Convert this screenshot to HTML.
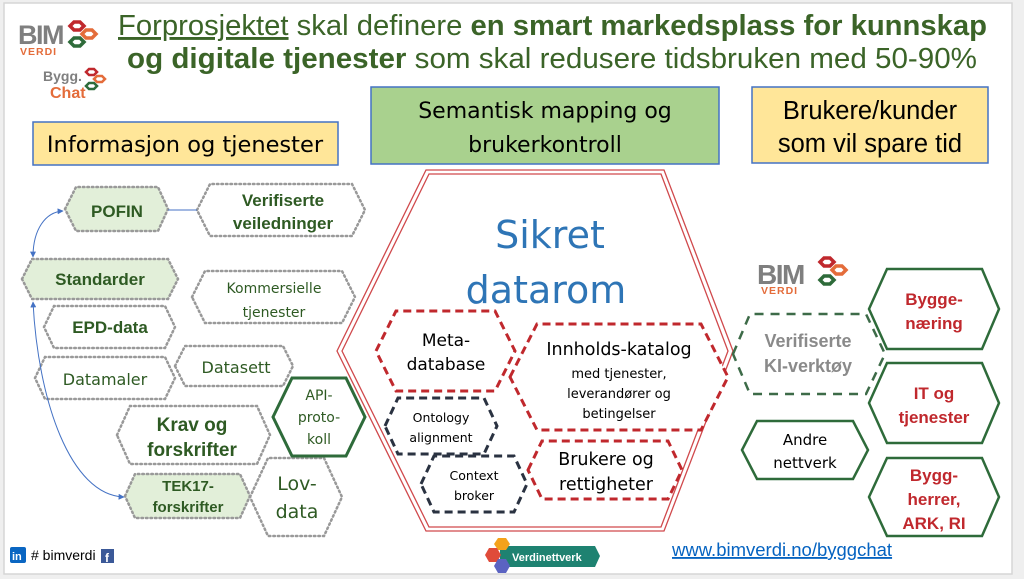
<!DOCTYPE html>
<html><head><meta charset="utf-8"><style>
html,body{margin:0;padding:0;background:#efefef;}
svg{display:block;font-family:"Liberation Sans",sans-serif;}
.c{font-family:"DejaVu Sans","Liberation Sans",sans-serif;}
</style></head><body>
<svg width="1024" height="579" viewBox="0 0 1024 579" xmlns="http://www.w3.org/2000/svg">
<defs>
<marker id="ar" viewBox="0 0 10 10" refX="9" refY="5" markerWidth="6" markerHeight="6" orient="auto-start-reverse"><path d="M0,0L10,5L0,10z" fill="#4472c4"/></marker>
</defs>
<rect x="4" y="3" width="1008" height="571" fill="#fff" stroke="#d6d6d6" stroke-width="1.5"/>

<!-- logos top-left -->
<text x="18" y="44" font-size="27" font-weight="bold" fill="#7f7f7f" letter-spacing="-1.5">BIM</text>
<text x="20" y="55" font-size="10.5" font-weight="bold" fill="#e46c3a" letter-spacing="1">VERDI</text>
<g fill="none" stroke-width="3.5">
<polygon points="70,26 74,22 80,22 84,26 80,30 74,30" stroke="#c0282d"/>
<polygon points="82,34 86,30 92,30 96,34 92,38 86,38" stroke="#e46c3a"/>
<polygon points="70,42 74,38 80,38 84,42 80,46 74,46" stroke="#2e6b3a"/>
</g>
<text x="43" y="81" font-size="14" font-weight="bold" fill="#7f7f7f">Bygg.</text>
<text x="50" y="98" font-size="16" font-weight="bold" fill="#e46c3a">Chat</text>
<g fill="none" stroke-width="2.5">
<polygon points="86,72 89,69 94,69 97,72 94,75 89,75" stroke="#c0282d"/>
<polygon points="94,79 97,76 102,76 105,79 102,82 97,82" stroke="#e46c3a"/>
<polygon points="86,86 89,83 94,83 97,86 94,89 89,89" stroke="#2e6b3a"/>
</g>

<!-- title -->
<g fill="#3b6428" font-size="29">
<text x="118" y="35" textLength="869" lengthAdjust="spacingAndGlyphs"><tspan text-decoration="underline">Forprosjektet</tspan> skal definere <tspan font-weight="bold">en smart markedsplass for kunnskap</tspan></text>
<text x="127" y="68" textLength="850" lengthAdjust="spacingAndGlyphs"><tspan font-weight="bold">og digitale tjenester</tspan> som skal redusere tidsbruken med 50-90%</text>
</g>

<!-- header boxes -->
<rect x="33" y="122" width="305" height="43" fill="#ffe699" stroke="#4472c4" stroke-width="1.5"/>
<text class="c" x="185" y="152" font-size="22.5" text-anchor="middle" fill="#000">Informasjon og tjenester</text>
<rect x="371" y="87" width="348" height="77" fill="#a9d18e" stroke="#4472c4" stroke-width="1.5"/>
<text class="c" x="545" y="118" font-size="22" text-anchor="middle">Semantisk mapping og</text>
<text class="c" x="545" y="152" font-size="22" text-anchor="middle">brukerkontroll</text>
<rect x="752" y="87" width="236" height="76" fill="#ffe699" stroke="#4472c4" stroke-width="1.5"/>
<text x="870" y="119" font-size="25.5" text-anchor="middle">Brukere/kunder</text>
<text x="870" y="152" font-size="25.5" text-anchor="middle">som vil spare tid</text>

<!-- left hexes -->
<g stroke="#999" stroke-width="2.5" stroke-dasharray="1.5 3" stroke-linecap="round">
<polygon points="65,209 76,187 158,187 168,209 158,231 76,231" fill="#e2efd9"/>
<polygon points="197,210 210,184 352,184 365,210 352,236 210,236" fill="#fff"/>
<polygon points="22,279 32,259 168,259 178,279 168,299 32,299" fill="#e2efd9"/>
<polygon points="192,297 205,271 342,271 355,297 342,323 205,323" fill="#fff"/>
<polygon points="44,327 54,306 165,306 175,327 165,348 54,348" fill="#fff"/>
<polygon points="35,378 45,357 165,357 175,378 165,399 45,399" fill="#fff"/>
<polygon points="175,366 185,346 283,346 293,366 283,386 185,386" fill="#fff"/>
<polygon points="117,435 130,406 257,406 270,435 257,464 130,464" fill="#fff"/>
<polygon points="125,496 135,474 240,474 250,496 240,518 135,518" fill="#e2efd9"/>
<polygon points="250,497 268,458 324,458 342,497 324,536 268,536" fill="#fff"/>
</g>
<polygon points="273,417 292,378 346,378 365,417 346,456 292,456" fill="#fff" stroke="#2e6b3a" stroke-width="3"/>

<g fill="#2e5a23" text-anchor="middle">
<text x="117" y="217" font-size="17" font-weight="bold">POFIN</text>
<text x="283" y="206" font-size="17" font-weight="bold">Verifiserte</text>
<text x="283" y="229" font-size="17" font-weight="bold">veiledninger</text>
<text x="100" y="285" font-size="17" font-weight="bold">Standarder</text>
<text class="c" x="274" y="293" font-size="14">Kommersielle</text>
<text class="c" x="274" y="317" font-size="14">tjenester</text>
<text x="110" y="333" font-size="17" font-weight="bold">EPD-data</text>
<text class="c" x="105" y="385" font-size="16">Datamaler</text>
<text class="c" x="236" y="373" font-size="16">Datasett</text>
<text x="192" y="431" font-size="19" font-weight="bold">Krav og</text>
<text x="192" y="456" font-size="19" font-weight="bold">forskrifter</text>
<text x="188" y="491" font-size="15" font-weight="bold">TEK17-</text>
<text x="188" y="512" font-size="15" font-weight="bold">forskrifter</text>
<text class="c" x="297" y="490" font-size="19">Lov-</text>
<text class="c" x="297" y="518" font-size="19">data</text>
<text class="c" x="319" y="400" font-size="14">API-</text>
<text class="c" x="319" y="422" font-size="14">proto-</text>
<text class="c" x="319" y="444" font-size="14">koll</text>
</g>

<!-- connectors -->
<g stroke="#4472c4" stroke-width="1" fill="none">
<line x1="168" y1="210" x2="197" y2="210"/>
<path d="M33,257 C33,230 45,212 63,211" marker-start="url(#ar)" marker-end="url(#ar)"/>
<path d="M33,302 C38,400 70,495 124,497" marker-start="url(#ar)" marker-end="url(#ar)"/>
</g>

<!-- central hexagon -->
<polygon points="337,351 426,170 664,170 733,351 664,531 426,531" fill="#fff" stroke="#d0494c" stroke-width="1.3"/>
<polygon points="342,351 429,174 661,174 728,351 661,527 429,527" fill="none" stroke="#d0494c" stroke-width="1.3"/>
<text class="c" x="550" y="248" font-size="38" fill="#2e75b6" text-anchor="middle">Sikret</text>
<text class="c" x="546" y="303" font-size="38" fill="#2e75b6" text-anchor="middle">datarom</text>

<g fill="#fff" stroke-width="3" stroke-dasharray="8 5">
<polygon points="376,351 396,311 495,311 515,351 495,391 396,391" stroke="#c0282d"/>
<polygon points="510,377 537,324 701,324 728,377 701,430 537,430" stroke="#c0282d"/>
<polygon points="385,426 398,398 484,398 497,426 484,454 398,454" stroke="#2a3241"/>
<polygon points="421,484 434,456 514,456 527,484 514,512 434,512" stroke="#2a3241"/>
<polygon points="528,470 542,441 668,441 682,470 668,499 542,499" stroke="#c0282d"/>
</g>
<g class="c" text-anchor="middle" fill="#000">
<text x="446" y="346" font-size="17">Meta-</text>
<text x="446" y="370" font-size="17">database</text>
<text x="619" y="355" font-size="17.5">Innholds-katalog</text>
<text x="619" y="378" font-size="13">med tjenester,</text>
<text x="619" y="398" font-size="13">leverandører og</text>
<text x="619" y="418" font-size="13">betingelser</text>
<text x="441" y="422" font-size="12.5">Ontology</text>
<text x="441" y="442" font-size="12.5">alignment</text>
<text x="474" y="480" font-size="12.5">Context</text>
<text x="474" y="500" font-size="12.5">broker</text>
<text x="606" y="465" font-size="17.5">Brukere og</text>
<text x="606" y="490" font-size="17.5">rettigheter</text>
</g>

<!-- Verdinettverk -->
<polygon points="500,546 595,546 600,556 595,567 500,567" fill="#1e8271"/>
<polygon points="494,544 498,538 506,538 510,544 506,550 498,550" fill="#f4a21b"/>
<polygon points="485,555 489,548 497,548 501,555 497,562 489,562" fill="#e04b3a"/>
<polygon points="494,566 498,559 506,559 510,566 506,573 498,573" fill="#5b63c2"/>
<text x="512" y="561" font-size="11" font-weight="bold" fill="#fff">Verdinettverk</text>

<!-- right side -->
<text x="757" y="284" font-size="28" font-weight="bold" fill="#7f7f7f" letter-spacing="-1.5">BIM</text>
<text x="761" y="294" font-size="10.5" font-weight="bold" fill="#e46c3a" letter-spacing="1">VERDI</text>
<g fill="none" stroke-width="3.5">
<polygon points="820,262 824,258 830,258 834,262 830,266 824,266" stroke="#c0282d"/>
<polygon points="832,270 836,266 842,266 846,270 842,274 836,274" stroke="#e46c3a"/>
<polygon points="820,280 824,276 830,276 834,280 830,284 824,284" stroke="#2e6b3a"/>
</g>

<polygon points="733,354 750,314 866,314 885,354 866,394 750,394" fill="#fff" stroke="#3d6b48" stroke-width="2.5" stroke-dasharray="9 7"/>
<text x="808" y="347" font-size="18" font-weight="bold" fill="#8a8a8a" text-anchor="middle">Verifiserte</text>
<text x="808" y="372" font-size="18" font-weight="bold" fill="#8a8a8a" text-anchor="middle">KI-verktøy</text>

<g fill="#fff" stroke="#2e6b3a" stroke-width="2.5">
<polygon points="869,309 887,269 982,269 999,309 982,349 887,349"/>
<polygon points="869,403 887,363 982,363 999,403 982,443 887,443"/>
<polygon points="869,497 887,458 982,458 999,497 982,536 887,536"/>
<polygon points="742,450 757,421 853,421 868,450 853,479 757,479"/>
</g>
<g fill="#c0282d" font-size="17" font-weight="bold" text-anchor="middle">
<text x="934" y="305">Bygge-</text>
<text x="934" y="329">næring</text>
<text x="934" y="399">IT og</text>
<text x="934" y="423">tjenester</text>
<text x="934" y="481">Bygg-</text>
<text x="934" y="505">herrer,</text>
<text x="934" y="529">ARK, RI</text>
</g>
<text class="c" x="805" y="445" font-size="15" text-anchor="middle">Andre</text>
<text class="c" x="805" y="468" font-size="15" text-anchor="middle">nettverk</text>

<text x="672" y="556" font-size="18.5" fill="#0563c1" text-decoration="underline">www.bimverdi.no/byggchat</text>

<!-- bottom left social -->
<rect x="10" y="547" width="16" height="16" rx="2" fill="#0a66c2"/>
<text x="12" y="560" font-size="11" font-weight="bold" fill="#fff">in</text>
<text x="31" y="560" font-size="14" fill="#000"># bimverdi</text>
<rect x="101" y="549" width="13" height="14" fill="#3b5998"/>
<text x="105" y="562" font-size="12" font-weight="bold" fill="#fff">f</text>
</svg>
</body></html>
